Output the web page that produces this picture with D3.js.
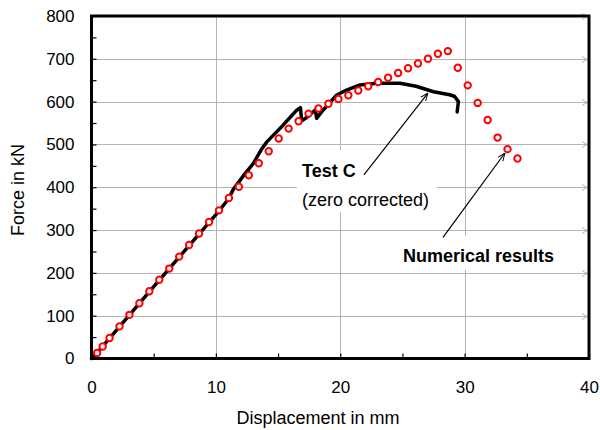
<!DOCTYPE html>
<html>
<head>
<meta charset="utf-8">
<script src="https://cdn.jsdelivr.net/npm/d3@7"></script>
<style>
  body { margin: 0; background: #fff; }
  text { font-family: Arial, "Liberation Sans", sans-serif; fill: #000; }
</style>
</head>
<body>
<script>
var width = 600,
    height = 430;

// Test C (zero corrected) - measured curve
var testDisp  = [0, 0.45, 5, 10, 11.0, 11.4, 12.3, 13.0, 13.7, 14.1, 14.9, 15.4, 16.0, 16.5, 16.8,
                 16.9, 17.3, 17.7, 18.0, 18.1, 18.5, 19.0, 19.7, 20.5, 21.6, 22.9, 24.3, 24.8,
                 26.1, 27.5, 28.8, 29.2, 29.5, 29.4];
var testForce = [0, 13, 168, 336, 372, 395, 430, 455, 490, 506, 530, 545, 564, 580, 586,
                 555, 563, 573, 581, 561, 576, 592, 615, 627, 639, 643, 643, 643,
                 636, 623, 616, 612, 600, 576];

// Numerical results - markers
var numDisp  = [0.45, 0.9, 1.45, 2.25, 3.05, 3.85, 4.65, 5.45, 6.25, 7.05, 7.85, 8.65, 9.45, 10.25,
                11.05, 11.85, 12.65, 13.45, 14.25, 15.05, 15.85, 16.65, 17.45, 18.25, 19.05, 19.85,
                20.65, 21.45, 22.25, 23.05, 23.85, 24.65, 25.45, 26.25, 27.05, 27.85, 28.65,
                29.45, 30.25, 31.05, 31.85, 32.65, 33.45, 34.25];
var numForce = [13, 28, 48, 75, 102, 129, 157, 184, 210, 238, 265, 292, 319, 346,
                375, 401, 428, 456, 484, 514, 537, 554, 572, 584, 595, 606,
                615, 626, 636, 646, 656, 667, 678, 689, 700, 712, 718,
                679, 638, 597, 557, 516, 489, 467];

var xTicks = [0, 10, 20, 30, 40];
var yTicks = [0, 100, 200, 300, 400, 500, 600, 700, 800];

var x = d3.scaleLinear().domain([0, 40]).range([91.5, 589]);
var y = d3.scaleLinear().domain([0, 800]).range([358.5, 16]);

var svg = d3.select("body").append("svg")
    .attr("width", width)
    .attr("height", height);

// gridlines
var grid = svg.append("g").attr("stroke", "#b4b4b4").attr("stroke-width", 1);
grid.selectAll(".hg")
  .data(yTicks.slice(1, -1))
  .enter().append("line")
  .attr("x1", x(0)).attr("x2", x(40))
  .attr("y1", function(d) { return Math.round(y(d)) + 0.5; })
  .attr("y2", function(d) { return Math.round(y(d)) + 0.5; });
grid.selectAll(".vg")
  .data(xTicks.slice(1, -1))
  .enter().append("line")
  .attr("y1", y(0)).attr("y2", y(800))
  .attr("x1", function(d) { return Math.round(x(d)) + 0.5; })
  .attr("x2", function(d) { return Math.round(x(d)) + 0.5; });
// little grey chevrons at the right end of the gridlines
grid.selectAll(".chev")
  .data(yTicks.slice(1))
  .enter().append("path")
  .attr("fill", "none")
  .attr("d", function(d) {
    var yy = Math.round(y(d)) + 0.5, xx = x(40) - 2;
    return "M" + (xx - 5) + "," + (yy - 3) + "L" + xx + "," + yy + "L" + (xx - 5) + "," + (yy + 3);
  });

// white boxes behind the annotations
svg.append("rect").attr("x", 297).attr("y", 150).attr("width", 140).attr("height", 62).attr("fill", "#fff");
svg.append("rect").attr("x", 396).attr("y", 236).attr("width", 168).attr("height", 34).attr("fill", "#fff");

// axes (ticks inside)
var yAxis = d3.axisLeft(y)
  .tickValues(d3.range(0, 801, 50))
  .tickSize(-5)
  .tickPadding(17)
  .tickFormat(function(d) { return d % 100 === 0 ? d : ""; });
var xAxis = d3.axisBottom(x)
  .tickValues(d3.range(0, 41, 5))
  .tickSize(-5)
  .tickPadding(22)
  .tickFormat(function(d) { return d % 10 === 0 ? d : ""; });

var gy = svg.append("g").attr("transform", "translate(" + x(0) + ",0)").call(yAxis);
var gx = svg.append("g").attr("transform", "translate(0," + y(0) + ")").call(xAxis);
[gx, gy].forEach(function(g) {
  g.select(".domain").remove();
  g.selectAll(".tick line").attr("stroke", "#000").attr("stroke-width", 1.2);
  g.selectAll(".tick text").style("font-size", "17px").attr("fill", "#000");
});

// frame
svg.append("rect")
  .attr("x", x(0)).attr("y", y(800))
  .attr("width", x(40) - x(0)).attr("height", y(0) - y(800))
  .attr("fill", "none").attr("stroke", "#000").attr("stroke-width", 3);

// test curve
var testData = testDisp.map(function(d, i) { return [d, testForce[i]]; });
var line = d3.line()
  .x(function(d) { return x(d[0]); })
  .y(function(d) { return y(d[1]); })
  .curve(d3.curveLinear);
svg.append("path")
  .datum(testData)
  .attr("d", line)
  .attr("fill", "none")
  .attr("stroke", "#000")
  .attr("stroke-width", 3.5)
  .attr("stroke-linejoin", "round")
  .attr("stroke-linecap", "round");

// numerical markers
svg.append("g").selectAll("circle")
  .data(numDisp.map(function(d, i) { return [d, numForce[i]]; }))
  .enter().append("circle")
  .attr("cx", function(d) { return x(d[0]); })
  .attr("cy", function(d) { return y(d[1]); })
  .attr("r", 3.2)
  .attr("fill", "#fff")
  .attr("stroke", "#ff0000")
  .attr("stroke-width", 2);

// arrows
svg.append("defs").append("marker")
  .attr("id", "head")
  .attr("viewBox", "0 -5 10 10")
  .attr("refX", 10).attr("refY", 0)
  .attr("markerWidth", 8).attr("markerHeight", 8)
  .attr("markerUnits", "userSpaceOnUse")
  .attr("orient", "auto")
  .append("path")
  .attr("d", "M0,-4L10,0L0,4")
  .attr("fill", "none")
  .attr("stroke", "#000")
  .attr("stroke-width", 1.2);

var arrows = [
  {from: [21.9, 429], to: [27.05, 620]},
  {from: [28.26, 283], to: [33.24, 480]}
];
svg.selectAll(".arrow")
  .data(arrows)
  .enter().append("line")
  .attr("x1", function(d) { return x(d.from[0]); })
  .attr("y1", function(d) { return y(d.from[1]); })
  .attr("x2", function(d) { return x(d.to[0]); })
  .attr("y2", function(d) { return y(d.to[1]); })
  .attr("stroke", "#000")
  .attr("stroke-width", 1.2)
  .attr("marker-end", "url(#head)");

// annotation text
svg.append("text").attr("x", 302).attr("y", 177)
  .style("font-size", "18px").style("font-weight", "bold").text("Test C");
svg.append("text").attr("x", 302).attr("y", 206)
  .style("font-size", "18px").text("(zero corrected)");
svg.append("text").attr("x", 403).attr("y", 262)
  .style("font-size", "18px").style("font-weight", "bold").text("Numerical results");

// axis titles
svg.append("text")
  .attr("x", 318).attr("y", 424)
  .attr("text-anchor", "middle")
  .style("font-size", "18px")
  .text("Displacement in mm");
svg.append("text")
  .attr("transform", "translate(24,190) rotate(-90)")
  .attr("text-anchor", "middle")
  .style("font-size", "18px")
  .text("Force in kN");
</script>
</body>
</html>
